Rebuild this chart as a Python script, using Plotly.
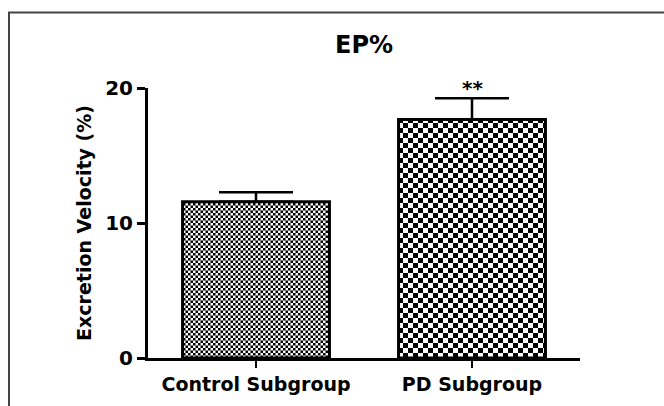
import plotly.graph_objects as go

categories = ["Control Subgroup", "PD Subgroup"]
means = [11.58, 17.67]
sems = [0.70, 1.57]
y_ticks = [0, 10, 20]
title_text = "EP%"
y_title = "Excretion Velocity (%)"
sig_marks = ["", "**"]

# checker tile sizes (px) for each bar
tile = [5, 10]

def checker_path(s):
    h = s / 2
    return f"M0,0H{h}V{h}H0Z M{h},{h}H{s}V{s}H{h}Z"

FONT = "DejaVu Sans"

fig = go.Figure()
for i, cat in enumerate(categories):
    fig.add_trace(go.Bar(
        x=[i], y=[means[i]], width=0.68,
        marker=dict(
            color="white",
            line=dict(color="black", width=3),
            pattern=dict(path=checker_path(tile[i]), size=tile[i],
                         fgcolor="black", bgcolor="white", fillmode="replace",
                         solidity=1),
        ),
        error_y=dict(type="data", symmetric=False, array=[sems[i]], arrayminus=[0],
                     color="black", thickness=2.5, width=37),
        showlegend=False, hoverinfo="skip",
    ))
    if sig_marks[i]:
        fig.add_annotation(x=i, y=means[i] + sems[i], text=sig_marks[i], showarrow=False,
                           yanchor="bottom", yshift=-4,
                           font=dict(family=FONT, size=20, color="black", weight="bold"))

# outer frame
fig.add_shape(type="rect", xref="paper", yref="paper",
              x0=(9 - 148) / 432, x1=(680 - 148) / 432,
              y0=(358 - 420) / 270, y1=(358 - 12.5) / 270,
              line=dict(color="#444", width=2), fillcolor="rgba(0,0,0,0)")

fig.update_layout(
    width=664, height=406,
    margin=dict(l=148, r=84, t=88, b=48),
    paper_bgcolor="white", plot_bgcolor="white",
    barmode="overlay",
    title=dict(text=title_text, x=0.5, xref="paper", y=1 - 45 / 406, yref="container",
               xanchor="center", yanchor="middle",
               font=dict(family=FONT, size=24, color="black", weight="bold")),
    xaxis=dict(range=[-0.5, 1.5], tickvals=[0, 1], ticktext=categories,
               showline=True, linecolor="black", linewidth=3,
               ticks="outside", ticklen=7, tickwidth=2, tickcolor="black",
               showgrid=False, zeroline=False, fixedrange=True,
               tickfont=dict(family=FONT, size=19, color="black", weight="bold")),
    yaxis=dict(range=[0, 20], tickvals=y_ticks, ticktext=[str(v) for v in y_ticks],
               showline=True, linecolor="black", linewidth=3,
               ticks="outside", ticklen=8, tickwidth=3, tickcolor="black",
               showgrid=False, zeroline=False, fixedrange=True,
               tickfont=dict(family=FONT, size=20, color="black", weight="bold"),
               title=dict(text=y_title, standoff=9,
                          font=dict(family=FONT, size=19, color="black", weight="bold"))),
)

fig.write_html("out.html", config={"displayModeBar": False},
               post_script="document.body.style.margin='0px';")
